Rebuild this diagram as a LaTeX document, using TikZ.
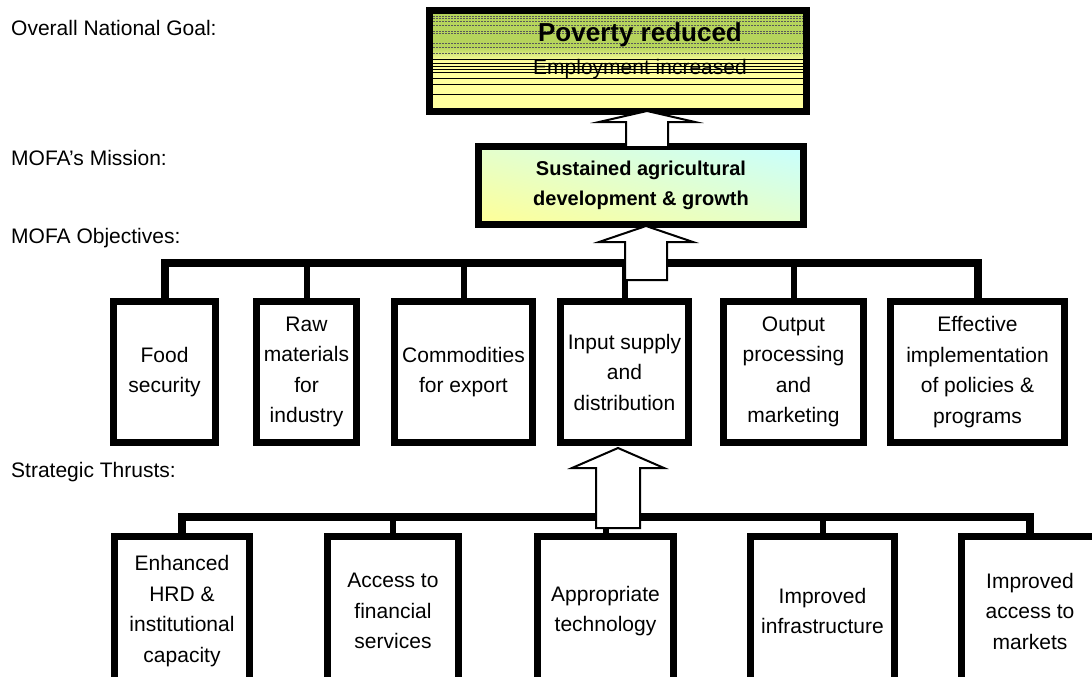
\documentclass[tikz,border=0pt]{standalone}
\usepackage{fontspec}
\setmainfont{Liberation Sans}
\usepackage{tikz}
\usetikzlibrary{
    positioning,
    calc,
    shadings
}
\definecolor{goalGreen}{RGB}{182, 212, 92}
\definecolor{goalYellow}{RGB}{255, 255, 158}
\definecolor{missionCyan}{RGB}{200, 255, 255}
\definecolor{missionYellow}{RGB}{255, 255, 150}
\definecolor{missionMix}{RGB}{228, 255, 205}
\pgfdeclareverticalshading{goalShade}{100bp}{color(0bp)=(goalYellow); color(50bp)=(goalYellow); color(57bp)=(goalGreen); color(100bp)=(goalGreen)}
\tikzset{
    tier/.style={anchor=west, inner sep=0pt, font=\fontsize{21}{25}\selectfont},
    objbox/.style={draw, line width=7pt, fill=white, inner sep=0pt, align=center,
        minimum height=141pt, font=\fontsize{21}{30.5}\selectfont},
    thrustbox/.style={objbox, minimum height=149pt},
    bus/.style={line width=8pt},
    stem/.style={line width=6pt},
    hollow/.style={draw, line width=2pt, fill=white, line join=miter},
    gdash/.style={black!65, line width=0.8pt, dash pattern=on 2pt off 1pt},
    gsolid/.style={black, line width=0.9pt}
}
\begin{document}
\begin{tikzpicture}[x=1pt, y=-1pt]
            \useasboundingbox (0,0) rectangle (1092,677);
            \clip (0,0) rectangle (1092,677);
            % level labels
            \node[tier] (lgoal) at (11,28) {Overall National Goal:};
            \node[tier] (lmission) at (11,158) {MOFA’s Mission:};
            \node[tier] (lobj) at (11,238) {MOFA Objectives:};
            \node[tier] (lthrust) at (11,472) {Strategic Thrusts:};
            % goal
            \node[draw, line width=7pt, shade, shading=goalShade, inner sep=0pt,
                minimum width=377pt, minimum height=101pt] (goal) at (618,61) {};
            \foreach \y in {16,18,21,25,31,33,43,47,53}
                \draw[gdash] (433,\y) -- (803,\y);
            \foreach \y in {59,63,66,69,72,78,84,94}
                \draw[gsolid] (433,\y) -- (803,\y);
            \node[font=\bfseries\fontsize{26}{30}\selectfont] (pov) at (640,35) {Poverty reduced};
            \node[font=\fontsize{21}{25}\selectfont] (emp) at (640,69) {Employment increased};
            % mission
            \node[draw, line width=7pt, upper left=missionMix, upper right=missionCyan,
                lower left=missionYellow, lower right=missionMix, inner sep=0pt, align=center,
                minimum width=325pt, minimum height=78pt,
                font=\bfseries\fontsize{20}{30}\selectfont] (mission) at (641,185.5)
                {Sustained agricultural\\development \& growth};
            % objectives
            \node[objbox, minimum width=102pt] (food) at (164.5,372) {Food\\security};
            \node[objbox, minimum width=100pt] (raw) at (306.5,372) {Raw\\materials\\for\\industry};
            \node[objbox, minimum width=138pt] (comm) at (463.5,372) {Commodities\\for export};
            \node[objbox, minimum width=128pt] (inp) at (624.5,372) {Input supply\\and\\distribution};
            \node[objbox, minimum width=140pt] (outp) at (793.5,372) {Output\\processing\\and\\marketing};
            \node[objbox, minimum width=174pt] (eff) at (977.5,372) {Effective\\implementation\\of policies \&\\programs};
            \coordinate (obus) at (0,263);
            \draw[bus] (food.north) -- (food.north |- obus) -- (eff.north |- obus) -- (eff.north);
            \foreach \n in {raw,comm,inp,outp}
                \draw[stem] (\n.north) -- (\n.north |- obus);
            % strategic thrusts
            \node[thrustbox, minimum width=135pt] (enh) at (182,611) {Enhanced\\HRD \&\\institutional\\capacity};
            \node[thrustbox, minimum width=131pt] (acc) at (393,611) {Access to\\financial\\services};
            \node[thrustbox, minimum width=136pt] (appr) at (605.5,611) {Appropriate\\technology};
            \node[thrustbox, minimum width=144pt] (infra) at (822.5,611) {Improved\\infrastructure};
            \node[thrustbox, minimum width=138pt] (mkt) at (1030,611) {Improved\\access to\\markets};
            \coordinate (tbus) at (0,517);
            \draw[bus] (enh.north) -- (enh.north |- tbus) -- (mkt.north |- tbus) -- (mkt.north);
            \foreach \n in {acc,appr,infra}
                \draw[stem] (\n.north) -- (\n.north |- tbus);
            % block arrows
            \coordinate (tipA) at (647,111);
            \coordinate (tipB) at (646,226);
            \coordinate (tipC) at (618,448);
            \draw[hollow] (tipA) -- ++(48,11) -- ++(-27,0) -- ++(0,25) -- ++(-42,0) -- ++(0,-25) -- ++(-27,0) -- cycle;
            \draw[hollow] (tipB) -- ++(47,16) -- ++(-26,0) -- ++(0,38) -- ++(-42,0) -- ++(0,-38) -- ++(-26,0) -- cycle;
            \draw[hollow] (tipC) -- ++(46,20) -- ++(-24,0) -- ++(0,60) -- ++(-44,0) -- ++(0,-60) -- ++(-24,0) -- cycle;
        \end{tikzpicture}
\end{document}
